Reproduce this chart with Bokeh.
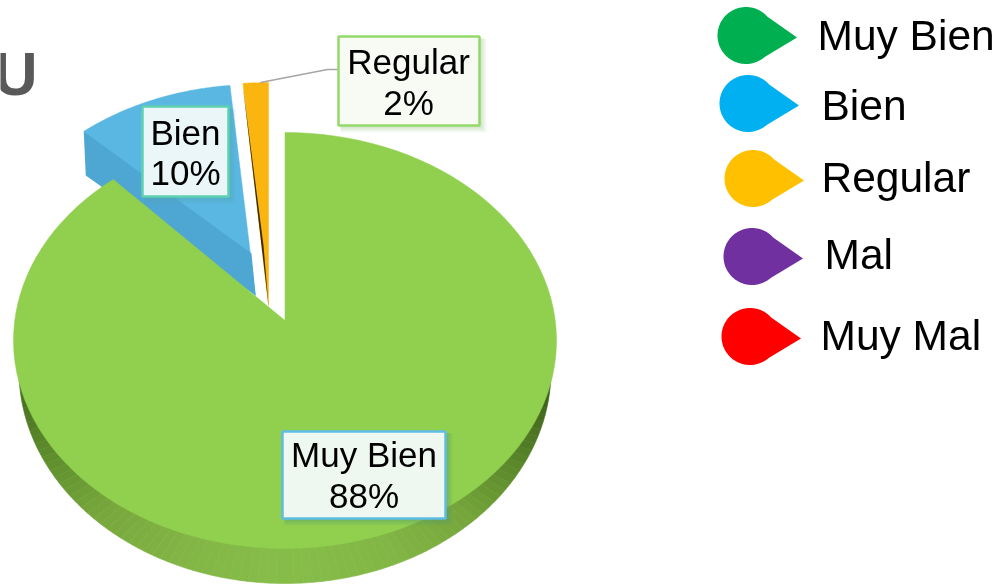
import numpy as np
from bokeh.plotting import figure
from bokeh.models import Range1d
from bokeh.core.properties import value
from bokeh.embed import file_html
from bokeh.resources import INLINE

# ---- data
slice_names = ["Muy Bien", "Bien", "Regular"]
slice_percent = [88, 10, 2]                 # printed labels
drawn_share = [89.1, 9.4, 1.5]              # sweep of each slice as drawn in the tilted view
slice_colors = ["#91cf4f", "#5ab7e2", "#fbb510"]
face_colors = ["#6f9f3a", "#4ea6d2", "#3a2c08"]
legend_names = ["Muy Bien", "Bien", "Regular", "Mal", "Muy Mal"]
legend_colors = ["#00b050", "#00b0f0", "#ffc000", "#7030a0", "#ff0000"]
title_fragment = "U"

# ---- layout (screen-like coordinates)
FONT = value("Liberation Sans")
RX, RY = 271.5, 208
apex_x = [284.5, 255, 268]
apex_y = [320, 295, 305]
center_dy = [20, -3, -15]
cut_depth = [(0, 0), (4, 42), (5, 60)]
legend_cx = [745.5, 747.5, 752.5, 751.5, 749.5]
legend_cy = [35, 103, 178, 256, 336]
legend_tx = [817, 821, 821, 824, 820]
legend_ty = [35, 105, 177, 254, 335]
label_boxes = [(282, 445, 431, 518), (142, 228, 106, 196), (338, 479, 36, 125)]
label_fill = ["#eff8f0", "#eaf6f7", "#f8fbf4"]
label_edge = ["#5fbde5", "#5fd0b0", "#92d96a"]
shadow_col = ["#4f9a70", "#4fa8b0", "#9fc98a"]
label_cx = [363.5, 185, 408]
label_base = [[454, 495], [132, 172], [61, 102]]

p = figure(width=999, height=585, output_backend="svg", toolbar_location=None,
           x_range=Range1d(0, 999), y_range=Range1d(585, 0), min_border=0,
           outline_line_color=None, background_fill_color="white")
p.axis.visible = False
p.grid.visible = False
p.styles = {"position": "fixed", "left": "0px", "top": "0px"}


def arc(cx, cy, rx, ry, a0, a1, n=120):
    t = np.radians(np.linspace(a0, a1, n))
    return cx + rx * np.sin(t), cy - ry * np.cos(t)


edges = np.concatenate([[0], np.cumsum(drawn_share)]) * 3.6

# side band of the big slice: lower ellipse, smooth shading along the rim
key_angle = [280, 262, 245, 225, 205, 180, 155, 135, 118, 98, 80]
key_rgb = np.array([[0x3f, 0x62, 0x1c], [0x4a, 0x72, 0x22], [0x5f, 0x8f, 0x2d], [0x78, 0xa8, 0x3d],
                    [0x82, 0xb5, 0x45], [0x87, 0xbe, 0x4a], [0x82, 0xb6, 0x45], [0x76, 0xa6, 0x3b],
                    [0x5c, 0x8a, 0x2c], [0x3f, 0x62, 0x1c], [0x3f, 0x62, 0x1c]], dtype=float)
band_edges = np.linspace(280, 80, 101)
for a0, a1 in zip(band_edges[:-1], band_edges[1:]):
    mid = (a0 + a1) / 2
    rgb = [np.interp(-mid, -np.array(key_angle), key_rgb[:, k]) for k in range(3)]
    c = "#%02x%02x%02x" % tuple(int(v) for v in rgb)
    xs, ys = arc(284.5, 370, 266, 213, a0, a1, 4)
    p.patch(np.r_[284.5, xs], np.r_[370, ys], fill_color=c, line_color=c, line_width=0.6)

# exploded slices first, then the big one on top
for i in [1, 2, 0]:
    ax, ay = apex_x[i], apex_y[i]
    xs, ys = arc(ax, ay + center_dy[i], RX, RY, edges[i], edges[i + 1])
    p.patch(np.r_[ax, xs], np.r_[ay, ys], fill_color=slice_colors[i], line_color=slice_colors[i], line_width=0.5)
    if i == 1:
        dx, dy = cut_depth[i]
        p.patch([xs[0], xs[0] + 2, ax, ax - dx], [ys[0], ys[0] + 44, ay, ay - dy],
                fill_color=face_colors[i], line_color=None)
    if i == 2:
        dx, dy = cut_depth[i]
        p.patch([xs[0], ax, ax - dx], [ys[0] + 3, ay, ay - dy], fill_color=face_colors[i], line_color=None)

# leader line of the smallest slice
p.line([260, 327, 338], [82, 69, 69], line_color="#a6a6a6", line_width=1.5)

# data labels
for i in range(3):
    l, r, t, b = label_boxes[i]
    for grow, alpha in [(7, 0.12), (5, 0.15), (3, 0.2)]:
        p.quad(left=l + 2, right=r + grow, top=t + 2, bottom=b + grow, fill_color=shadow_col[i], fill_alpha=alpha,
               line_color=None)
    p.quad(left=l, right=r, top=t, bottom=b, fill_color=label_fill[i], line_color=label_edge[i], line_width=2.5)
    p.text([label_cx[i]], [label_base[i][0]], text=[slice_names[i]], text_font=FONT, text_font_size=value("35px"),
           text_align="center", text_baseline="alphabetic", text_color="#000000")
    p.text([label_cx[i]], [label_base[i][1]], text=[f"{slice_percent[i]}%"], text_font=FONT,
           text_font_size=value("35px"), text_align="center", text_baseline="alphabetic", text_color="#000000")

# legend: drop-shaped keys
for i, name in enumerate(legend_names):
    cx, cy = legend_cx[i], legend_cy[i]
    t = np.radians(np.linspace(42, 312, 80))
    xs = cx + 28.5 * np.cos(t)
    ys = cy - 28.5 * np.sin(t)
    p.patch(np.r_[xs, cx + 51], np.r_[ys, cy + 2], fill_color=legend_colors[i], line_color=None)
    p.text([legend_tx[i]], [legend_ty[i]], text=[name], text_font=FONT, text_font_size=value("42.5px"),
           text_align="left", text_baseline="alphabetic", text_color="#000000")

# fragment of a cut-off title
p.text([-7], [73], text=[title_fragment], text_font=FONT, text_font_size=value("61px"), text_font_style="bold",
       text_align="left", text_baseline="alphabetic", text_color="#595959")

open("out.html", "w").write(file_html(p, INLINE))
